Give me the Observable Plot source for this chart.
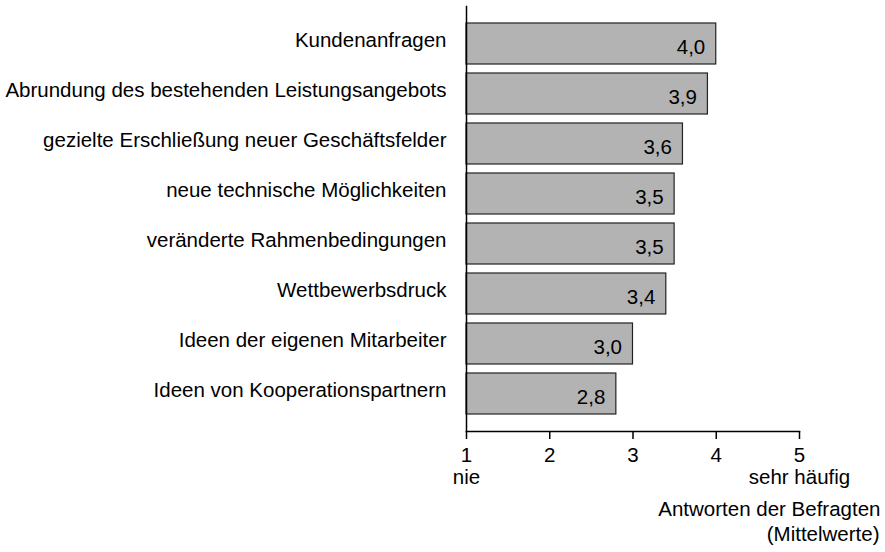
<!DOCTYPE html>
<html><head><meta charset="utf-8">
<script src="https://cdn.jsdelivr.net/npm/d3@7"></script>
<script src="https://cdn.jsdelivr.net/npm/@observablehq/plot@0.6"></script>
<style>body{margin:0;background:#fff}</style>
</head><body><div id="chart"></div>
<script>
const categories = [
  "Kundenanfragen",
  "Abrundung des bestehenden Leistungsangebots",
  "gezielte Erschließung neuer Geschäftsfelder",
  "neue technische Möglichkeiten",
  "veränderte Rahmenbedingungen",
  "Wettbewerbsdruck",
  "Ideen der eigenen Mitarbeiter",
  "Ideen von Kooperationspartnern"
];
const values = [4.0, 3.9, 3.6, 3.5, 3.5, 3.4, 3.0, 2.8];
const xTicks = [1, 2, 3, 4, 5];
const scaleEndLabels = ["nie", "sehr häufig"];
const scaleEndValues = [1, 5];
const axisTitleLines = ["Antworten der Befragten", "(Mittelwerte)"];

const data = categories.map((c, i) => ({category: c, value: values[i]}));
const ends = scaleEndLabels.map((t, i) => ({text: t, x: scaleEndValues[i]}));
const fmt = v => d3.format(".1f")(v).replace(".", ",");

const chart = Plot.plot({
  width: 885, height: 552,
  marginTop: 6, marginBottom: 121, marginLeft: 466, marginRight: 86,
  style: {fontFamily: "'Liberation Sans', Arial, sans-serif", fontSize: "20.5px", color: "black", background: "white"},
  x: {domain: [1, 5], label: null},
  y: {domain: categories, paddingInner: 0.18, paddingOuter: 0.34, label: null},
  marks: [
    Plot.barX(data, {y: "category", x1: d => 1, x2: "value", fill: "#b3b3b3", stroke: "#222", strokeWidth: 1.2}),
    Plot.text(data, {y: "category", x: "value", text: d => fmt(d.value), textAnchor: "end", dx: -11, dy: 3, fill: "black"}),
    Plot.frame({anchor: "left", stroke: "black", strokeWidth: 1.5}),
    Plot.frame({anchor: "bottom", stroke: "black", strokeWidth: 1.5}),
    Plot.axisX({ticks: xTicks, tickSize: 8, tickPadding: 8, tickFormat: d => String(d), label: null, strokeWidth: 1.5}),
    Plot.axisY({tickSize: 0, tickPadding: 20, dy: -4, label: null}),
    Plot.text(ends, {x: "x", text: "text", frameAnchor: "bottom", dy: 52, textAnchor: "middle", fill: "black"}),
    Plot.text([axisTitleLines[0]], {x: d => 5, text: d => d, frameAnchor: "bottom", textAnchor: "end", dx: 81, dy: 84, fill: "black"}),
    Plot.text([axisTitleLines[1]], {x: d => 5, text: d => d, frameAnchor: "bottom", textAnchor: "end", dx: 80, dy: 109, fill: "black"})
  ]
});
document.getElementById("chart").appendChild(chart);
</script>
</body></html>
